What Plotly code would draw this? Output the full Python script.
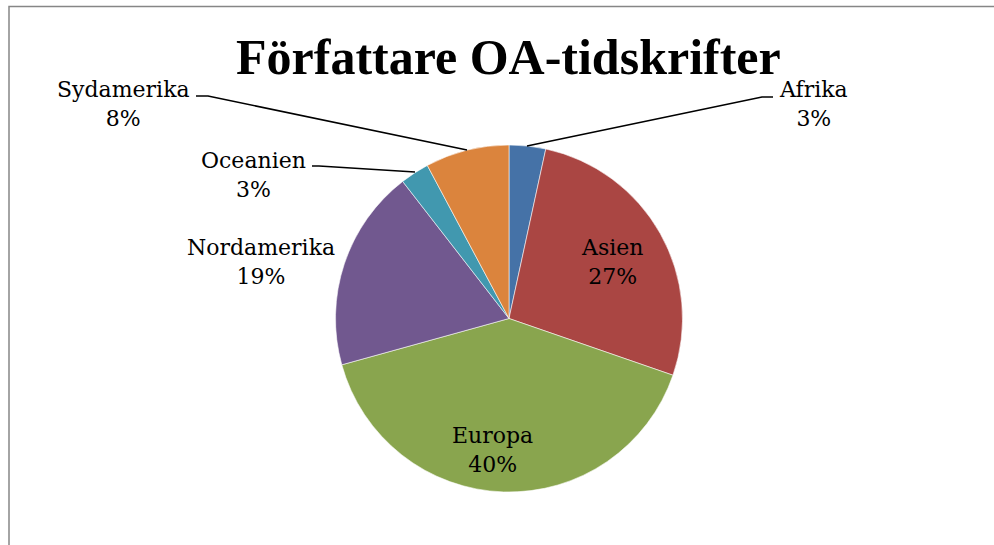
import plotly.graph_objects as go

# ---- data ----
regions = ["Afrika", "Asien", "Europa", "Nordamerika", "Oceanien", "Sydamerika"]
shares = [3.4, 26.9, 40.4, 18.8, 2.7, 7.8]
colors = ["#4572a7", "#aa4643", "#89a54e", "#71588f", "#4198af", "#db843d"]
title_text = "Författare OA-tidskrifter"

W, H = 994, 545
total = sum(shares)
pcts = [round(v / total * 100) for v in shares]

def px(x):
    return x / W

def py(y):
    return 1 - y / H

# pie geometry (pixels)
cx, cy, r = 509, 318.5, 173.5

fig = go.Figure(go.Pie(
    labels=regions,
    values=shares,
    sort=False,
    direction="clockwise",
    rotation=0,
    textinfo="none",
    hoverinfo="label+percent",
    marker=dict(colors=colors, line=dict(color="rgba(255,255,255,0.8)", width=0.7)),
    domain=dict(x=[px(cx - r), px(cx + r)], y=[py(cy + r), py(cy - r)]),
    showlegend=False,
))

# label placement (pixel centres)
label_pos = {
    "Afrika": (813, 104),
    "Asien": (612, 262),
    "Europa": (492, 450),
    "Nordamerika": (261, 262),
    "Oceanien": (253, 175),
    "Sydamerika": (123, 104),
}

annotations = []
for name, p in zip(regions, pcts):
    x, y = label_pos[name]
    annotations.append(dict(
        x=px(x), y=py(y), xref="paper", yref="paper",
        text=f"{name}<br>{p}%", showarrow=False,
        xanchor="center", yanchor="middle", align="center",
        font=dict(family="DejaVu Serif", size=22, color="#000000"),
    ))

annotations.append(dict(
    x=px(508), y=py(57), xref="paper", yref="paper",
    text=f"<b>{title_text}</b>", showarrow=False,
    xanchor="center", yanchor="middle",
    font=dict(family="Liberation Serif", size=50, color="#000000"),
))

# leader lines (pixel coordinates)
leaders = [
    [(527, 146), (762, 97), (773, 97)],
    [(196, 96), (208, 96), (467, 150)],
    [(312, 166), (319, 166), (415, 172)],
]
shapes = []
for pts in leaders:
    path = "M " + " L ".join(f"{px(x):.5f},{py(y):.5f}" for x, y in pts)
    shapes.append(dict(type="path", path=path, xref="paper", yref="paper",
                       line=dict(color="#000000", width=1.6)))

# chart frame
shapes.append(dict(type="rect", xref="paper", yref="paper",
                   x0=px(9), y0=py(560), x1=px(1010), y1=py(6.5),
                   line=dict(color="#868686", width=1.5), fillcolor="rgba(0,0,0,0)"))

fig.update_layout(
    width=W, height=H,
    margin=dict(l=0, r=0, t=0, b=0),
    paper_bgcolor="white",
    plot_bgcolor="white",
    annotations=annotations,
    shapes=shapes,
)

fig.write_html("out.html",
               config={"displayModeBar": False},
               post_script="document.body.style.margin='0';document.body.style.overflow='hidden';")
